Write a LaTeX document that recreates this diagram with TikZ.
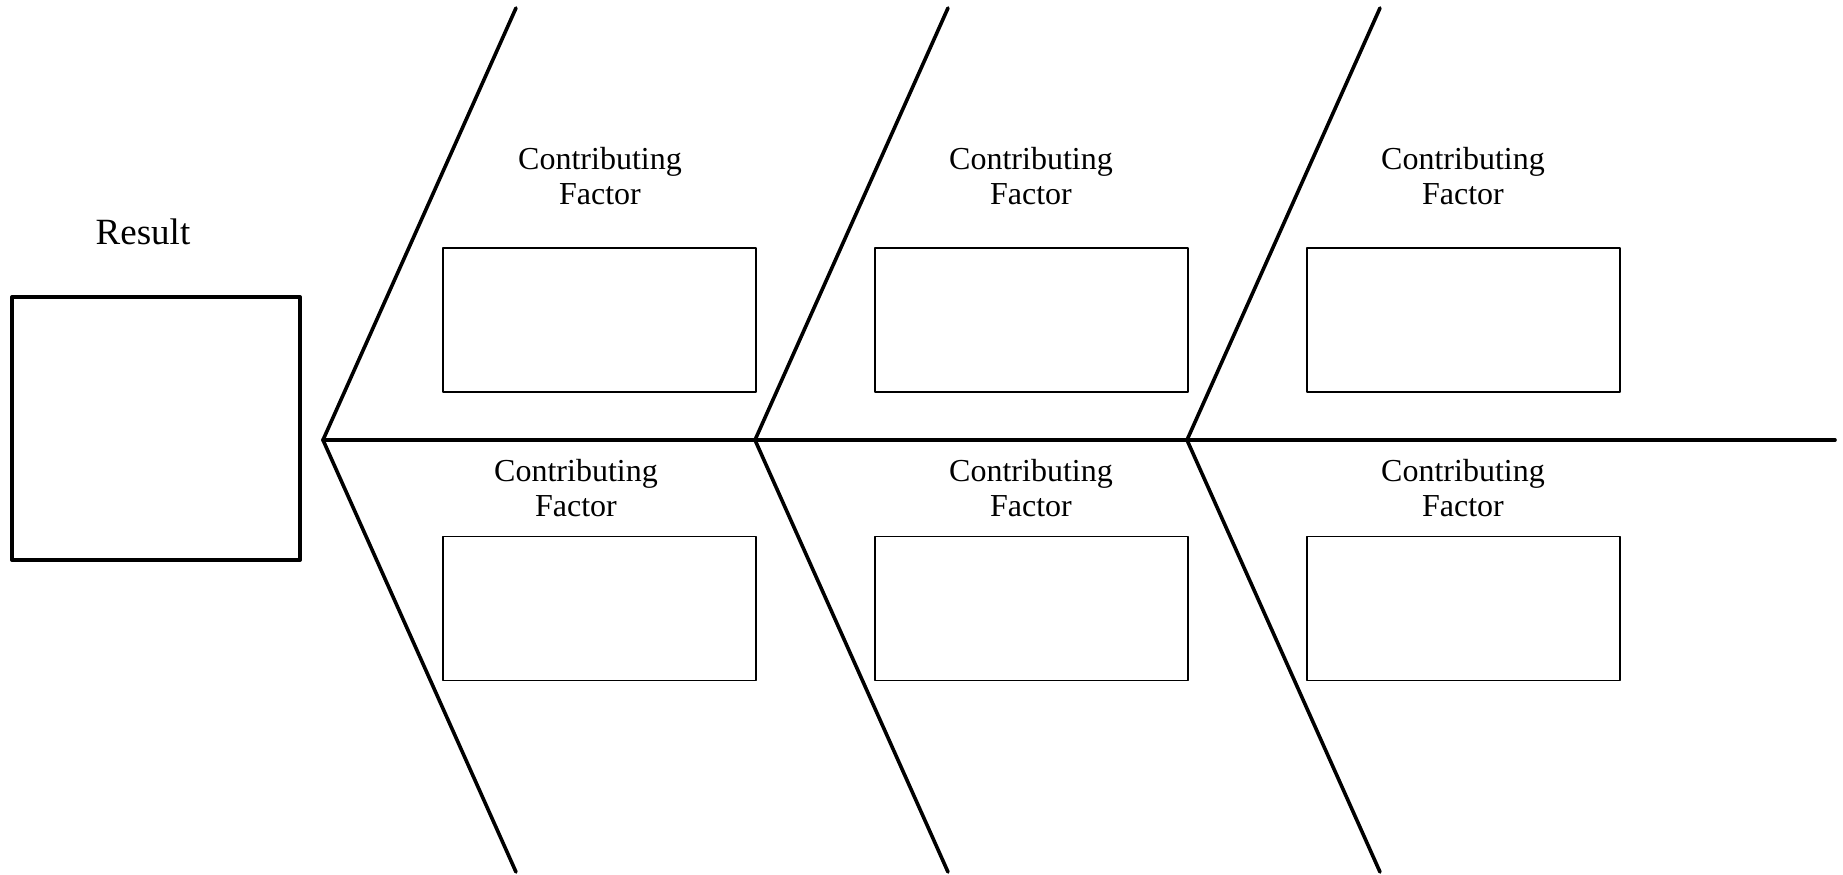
\documentclass[tikz,border=0pt]{standalone}
\usepackage{fontspec}
\setmainfont{Liberation Serif}
\begin{document}
\begin{tikzpicture}[x=0.5pt,y=-0.5pt,line join=round,line cap=round,
		bone/.style={line width=1.8pt},
		factorbox/.style={draw,line width=0.75pt,minimum width=156.5pt,minimum height=72pt,inner sep=0pt},
		factorlabel/.style={align=center,inner sep=0pt,font=\fontsize{16}{17.5}\selectfont}]
				\useasboundingbox (0,0) rectangle (1843,874);
				% result
				\node[draw,line width=2pt,minimum width=144pt,minimum height=131.5pt,inner sep=0pt] (result) at (156,428.5) {};
				\node[inner sep=0pt,font=\fontsize{18.5}{20}\selectfont] (resultlabel) at (143,232) {Result};
				% spine and bones
				\coordinate (a1) at (323,440); \coordinate (a2) at (755,440); \coordinate (a3) at (1187,440);
				\coordinate (tail) at (1835,440);
				\coordinate (t1) at (516,8); \coordinate (t2) at (948,8); \coordinate (t3) at (1380,8);
				\coordinate (b1) at (516,872); \coordinate (b2) at (948,872); \coordinate (b3) at (1380,872);
				\draw[bone] (a1)--(tail);
				\draw[bone] (t1)--(a1)--(b1);
				\draw[bone] (t2)--(a2)--(b2);
				\draw[bone] (t3)--(a3)--(b3);
				% factor boxes
				\node[factorbox] (f1) at (599.5,320) {};
				\node[factorbox] (f2) at (1031.5,320) {};
				\node[factorbox] (f3) at (1463.5,320) {};
				\node[factorbox] (f4) at (599.5,608.5) {};
				\node[factorbox] (f5) at (1031.5,608.5) {};
				\node[factorbox] (f6) at (1463.5,608.5) {};
				% factor labels
				\node[factorlabel] (l1) at (600,176) {Contributing\\Factor};
				\node[factorlabel] (l2) at (1031,176) {Contributing\\Factor};
				\node[factorlabel] (l3) at (1463,176) {Contributing\\Factor};
				\node[factorlabel] (l4) at (576,488.5) {Contributing\\Factor};
				\node[factorlabel] (l5) at (1031,488.5) {Contributing\\Factor};
				\node[factorlabel] (l6) at (1463,488.5) {Contributing\\Factor};
			\end{tikzpicture}
\end{document}
